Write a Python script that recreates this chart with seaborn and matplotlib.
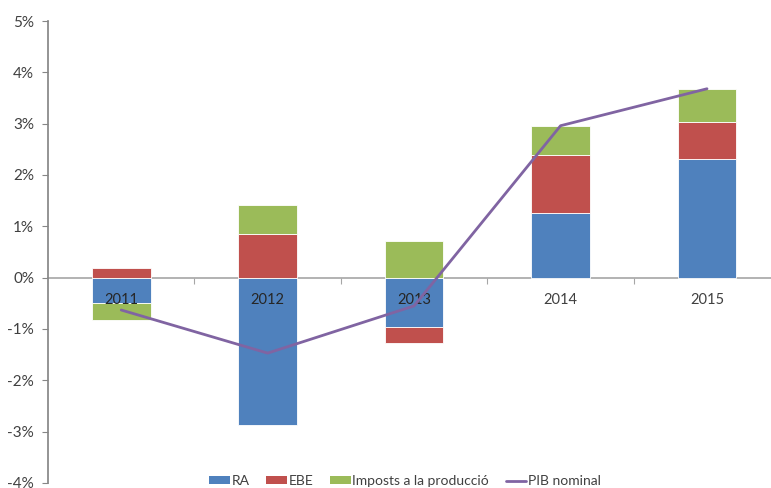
import numpy as np
import matplotlib
matplotlib.use("Agg")
import matplotlib.pyplot as plt
import seaborn as sns
from matplotlib.lines import Line2D
from matplotlib.patches import Patch

years = ["2011", "2012", "2013", "2014", "2015"]
ra = [-0.49, -2.87, -0.96, 1.26, 2.32]
ebe = [0.19, 0.86, -0.31, 1.13, 0.72]
imposts = [-0.33, 0.55, 0.72, 0.57, 0.64]
pib = [-0.63, -1.47, -0.55, 2.96, 3.68]

series_names = ["RA", "EBE", "Imposts a la producció"]
colors = ["#4F81BD", "#C0504D", "#9BBB59"]
line_color = "#8064A2"
yticks = [-4, -3, -2, -1, 0, 1, 2, 3, 4, 5]

sns.set_theme(style="white")
plt.rcParams["font.family"] = ["Lato", "DejaVu Sans"]

fig = plt.figure(figsize=(7.71, 4.88), dpi=100)
ax = fig.add_axes([48 / 771, 1 - 483 / 488, 1 - 48 / 771, (483 - 21) / 488])

x = np.arange(len(years))
pos_bottom = np.zeros(len(years))
neg_bottom = np.zeros(len(years))
for vals, col in zip([ra, ebe, imposts], colors):
    v = np.array(vals)
    bottoms = np.where(v >= 0, pos_bottom, neg_bottom)
    ax.bar(x, v, width=0.40, bottom=bottoms, color=col, edgecolor="white",
           linewidth=0.6, zorder=2)
    pos_bottom = pos_bottom + np.where(v >= 0, v, 0)
    neg_bottom = neg_bottom + np.where(v < 0, v, 0)

for xi, yr in zip(x, years):
    ax.text(xi, -0.43, yr, ha="center", va="center", fontsize=10.5,
            color="#262626" if xi < 3 else "#404040", zorder=3)

sns.lineplot(x=x, y=pib, ax=ax, color=line_color, linewidth=2, zorder=4,
             legend=False)

ax.set_xlim(-0.5, 4.437)
ax.set_ylim(-4, 5)
ax.set_yticks(yticks)
ax.set_yticklabels([f"{t}%" for t in yticks], fontsize=11, color="#404040")
ax.tick_params(axis="y", length=4, width=0.8, color="#868686", left=True,
               direction="out", pad=6)

ax.spines["top"].set_visible(False)
ax.spines["right"].set_visible(False)
ax.spines["left"].set_color("#868686")
ax.spines["bottom"].set_position(("data", 0))
ax.spines["bottom"].set_color("#A6A6A6")
ax.spines["bottom"].set_linewidth(1.2)
ax.spines["bottom"].set_zorder(1)
ax.set_xticks(np.arange(0.5, 4.5, 1.0))
ax.set_xticklabels([])
ax.tick_params(axis="x", length=4, width=0.8, color="#A6A6A6", bottom=True,
               direction="out")
ax.grid(False)

handles = [Patch(facecolor=c, edgecolor="none") for c in colors]
handles.append(Line2D([0], [0], color=line_color, linewidth=2))
labels = series_names + ["PIB nominal"]
fig.legend(handles, labels, loc="center", bbox_to_anchor=(405 / 771, 1 - 481 / 488),
           ncol=4, frameon=False, fontsize=10, handlelength=1.5, handleheight=0.5,
           handletextpad=0.1, columnspacing=1.2, labelcolor="#404040")

fig.savefig("out.png", dpi=100)
